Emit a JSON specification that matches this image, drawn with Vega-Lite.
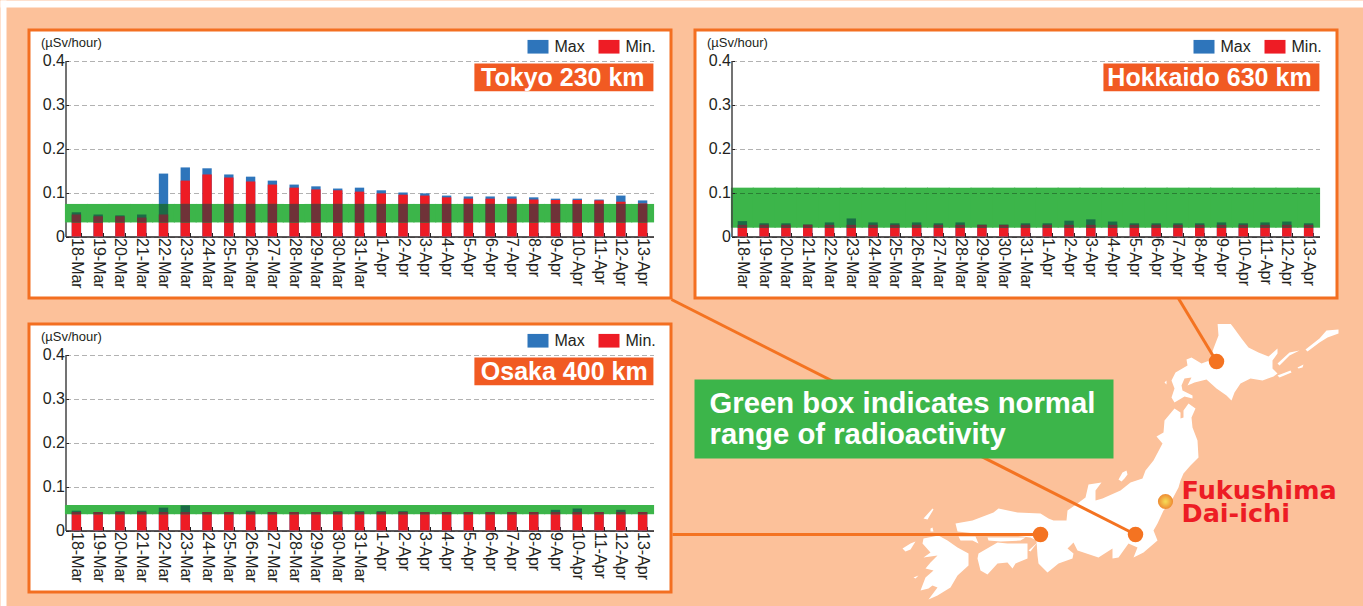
{"$schema":"https://vega.github.io/schema/vega-lite/v6.json","background":"#FCC19A","padding":0,"bounds":"flush","columns":2,"spacing":{"row":26,"column":24},
"resolve":{"scale":{"color":"independent"},"legend":{"color":"independent"}},
"config":{"font":"Liberation Sans","legend":{"labelFont":"Liberation Sans"}},
"datasets":{"readings":[
{"city":"Tokyo","day":"18-Mar","min":0.05,"max":0.055},{"city":"Tokyo","day":"19-Mar","min":0.046,"max":0.05},{"city":"Tokyo","day":"20-Mar","min":0.046,"max":0.048},{"city":"Tokyo","day":"21-Mar","min":0.043,"max":0.05},{"city":"Tokyo","day":"22-Mar","min":0.05,"max":0.143},{"city":"Tokyo","day":"23-Mar","min":0.127,"max":0.157},{"city":"Tokyo","day":"24-Mar","min":0.141,"max":0.155},{"city":"Tokyo","day":"25-Mar","min":0.134,"max":0.141},{"city":"Tokyo","day":"26-Mar","min":0.125,"max":0.136},{"city":"Tokyo","day":"27-Mar","min":0.118,"max":0.127},{"city":"Tokyo","day":"28-Mar","min":0.111,"max":0.118},{"city":"Tokyo","day":"29-Mar","min":0.107,"max":0.114},{"city":"Tokyo","day":"30-Mar","min":0.105,"max":0.109},{"city":"Tokyo","day":"31-Mar","min":0.102,"max":0.111},{"city":"Tokyo","day":"1-Apr","min":0.098,"max":0.105},{"city":"Tokyo","day":"2-Apr","min":0.095,"max":0.1},{"city":"Tokyo","day":"3-Apr","min":0.093,"max":0.098},{"city":"Tokyo","day":"4-Apr","min":0.089,"max":0.093},{"city":"Tokyo","day":"5-Apr","min":0.086,"max":0.091},{"city":"Tokyo","day":"6-Apr","min":0.086,"max":0.091},{"city":"Tokyo","day":"7-Apr","min":0.086,"max":0.091},{"city":"Tokyo","day":"8-Apr","min":0.084,"max":0.089},{"city":"Tokyo","day":"9-Apr","min":0.083,"max":0.086},{"city":"Tokyo","day":"10-Apr","min":0.083,"max":0.086},{"city":"Tokyo","day":"11-Apr","min":0.082,"max":0.084},{"city":"Tokyo","day":"12-Apr","min":0.079,"max":0.093},{"city":"Tokyo","day":"13-Apr","min":0.075,"max":0.082},
{"city":"Hokkaido","day":"18-Mar","min":0.0265,"max":0.035},{"city":"Hokkaido","day":"19-Mar","min":0.0265,"max":0.03},{"city":"Hokkaido","day":"20-Mar","min":0.0265,"max":0.03},{"city":"Hokkaido","day":"21-Mar","min":0.0265,"max":0.027},{"city":"Hokkaido","day":"22-Mar","min":0.0265,"max":0.032},{"city":"Hokkaido","day":"23-Mar","min":0.0265,"max":0.041},{"city":"Hokkaido","day":"24-Mar","min":0.0265,"max":0.032},{"city":"Hokkaido","day":"25-Mar","min":0.0265,"max":0.03},{"city":"Hokkaido","day":"26-Mar","min":0.0265,"max":0.032},{"city":"Hokkaido","day":"27-Mar","min":0.0265,"max":0.03},{"city":"Hokkaido","day":"28-Mar","min":0.0265,"max":0.032},{"city":"Hokkaido","day":"29-Mar","min":0.0265,"max":0.027},{"city":"Hokkaido","day":"30-Mar","min":0.0265,"max":0.027},{"city":"Hokkaido","day":"31-Mar","min":0.0265,"max":0.03},{"city":"Hokkaido","day":"1-Apr","min":0.0265,"max":0.03},{"city":"Hokkaido","day":"2-Apr","min":0.0265,"max":0.036},{"city":"Hokkaido","day":"3-Apr","min":0.0265,"max":0.039},{"city":"Hokkaido","day":"4-Apr","min":0.0265,"max":0.034},{"city":"Hokkaido","day":"5-Apr","min":0.0265,"max":0.03},{"city":"Hokkaido","day":"6-Apr","min":0.0265,"max":0.03},{"city":"Hokkaido","day":"7-Apr","min":0.0265,"max":0.03},{"city":"Hokkaido","day":"8-Apr","min":0.0265,"max":0.03},{"city":"Hokkaido","day":"9-Apr","min":0.0265,"max":0.032},{"city":"Hokkaido","day":"10-Apr","min":0.0265,"max":0.03},{"city":"Hokkaido","day":"11-Apr","min":0.0265,"max":0.032},{"city":"Hokkaido","day":"12-Apr","min":0.0265,"max":0.034},{"city":"Hokkaido","day":"13-Apr","min":0.0265,"max":0.03},
{"city":"Osaka","day":"18-Mar","min":0.042,"max":0.045},{"city":"Osaka","day":"19-Mar","min":0.042,"max":0.042},{"city":"Osaka","day":"20-Mar","min":0.042,"max":0.044},{"city":"Osaka","day":"21-Mar","min":0.042,"max":0.045},{"city":"Osaka","day":"22-Mar","min":0.042,"max":0.052},{"city":"Osaka","day":"23-Mar","min":0.042,"max":0.057},{"city":"Osaka","day":"24-Mar","min":0.042,"max":0.042},{"city":"Osaka","day":"25-Mar","min":0.042,"max":0.042},{"city":"Osaka","day":"26-Mar","min":0.042,"max":0.045},{"city":"Osaka","day":"27-Mar","min":0.042,"max":0.042},{"city":"Osaka","day":"28-Mar","min":0.042,"max":0.042},{"city":"Osaka","day":"29-Mar","min":0.042,"max":0.042},{"city":"Osaka","day":"30-Mar","min":0.042,"max":0.044},{"city":"Osaka","day":"31-Mar","min":0.042,"max":0.044},{"city":"Osaka","day":"1-Apr","min":0.042,"max":0.044},{"city":"Osaka","day":"2-Apr","min":0.042,"max":0.044},{"city":"Osaka","day":"3-Apr","min":0.042,"max":0.042},{"city":"Osaka","day":"4-Apr","min":0.042,"max":0.042},{"city":"Osaka","day":"5-Apr","min":0.042,"max":0.042},{"city":"Osaka","day":"6-Apr","min":0.042,"max":0.042},{"city":"Osaka","day":"7-Apr","min":0.042,"max":0.042},{"city":"Osaka","day":"8-Apr","min":0.042,"max":0.042},{"city":"Osaka","day":"9-Apr","min":0.042,"max":0.047},{"city":"Osaka","day":"10-Apr","min":0.042,"max":0.05},{"city":"Osaka","day":"11-Apr","min":0.042,"max":0.042},{"city":"Osaka","day":"12-Apr","min":0.042,"max":0.047},{"city":"Osaka","day":"13-Apr","min":0.042,"max":0.042}
]},
"concat":[
{"width":642,"height":268,"view":{"stroke":"#F36F21","strokeWidth":3,"fill":"white"},"data":{"name":"readings"},"transform":[{"filter":"datum.city==='Tokyo'"}],
"encoding":{"x":{"field":"day","type":"ordinal","title":null,"scale":{"domain":["18-Mar","19-Mar","20-Mar","21-Mar","22-Mar","23-Mar","24-Mar","25-Mar","26-Mar","27-Mar","28-Mar","29-Mar","30-Mar","31-Mar","1-Apr","2-Apr","3-Apr","4-Apr","5-Apr","6-Apr","7-Apr","8-Apr","9-Apr","10-Apr","11-Apr","12-Apr","13-Apr"],"range":[36.5,624.5],"paddingInner":0.57,"paddingOuter":0.285},"axis":{"offset":-61.5,"minExtent":0,"maxExtent":0,"labelAngle":90,"labelFontSize":16,"labelColor":"#231F20","labelPadding":5,"tickBand":"extent","tickSize":-4,"tickColor":"#231F20","domainColor":"#231F20","domainWidth":1.5,"labelOverlap":false}}},
"resolve":{"scale":{"y":"independent"}},
"layer":[
{"layer":[
{"mark":{"type":"bar"},"encoding":{"y":{"field":"max","type":"quantitative","stack":false,"scale":{"domain":[0,0.4],"range":[206.5,30.5],"nice":false},"axis":{"offset":-36.5,"minExtent":0,"maxExtent":0,"values":[0,0.1,0.2,0.3,0.4],"format":"~g","labelFontSize":16,"labelColor":"#231F20","labelPadding":4,"tickSize":-3,"tickColor":"#231F20","domainColor":"#444444","domainWidth":1.5,"grid":true,"gridDash":[5,3],"gridWidth":1.2,"gridColor":"#000000","gridOpacity":0.3,"title":"(µSv/hour)","titleFontSize":13,"titleFontWeight":"normal","titleColor":"#231F20","titleAngle":0,"titleAlign":"left","titleBaseline":"middle","titleX":-25,"titleY":12.5}},"color":{"datum":"Max","type":"nominal","scale":{"domain":["Max","Min."],"range":["#2E75BB","#EE1C25"]},"legend":{"title":null,"orient":"none","legendX":498.5,"legendY":6,"direction":"horizontal","symbolType":"M-1,-0.65H1V0.65H-1Z","symbolSize":441,"symbolStrokeWidth":0,"symbolOpacity":1,"labelFontSize":16,"labelColor":"#231F20","columnPadding":13,"labelOffset":6}}}},
{"mark":{"type":"bar"},"encoding":{"y":{"field":"min","type":"quantitative","stack":false},"color":{"datum":"Min.","type":"nominal"}}},
{"mark":{"type":"bar","width":{"band":2.45},"color":"#3CB54A"},"encoding":{"y":{"datum":0.032,"type":"quantitative"},"y2":{"datum":0.074}}},
{"data":{"values":[{"city":"Tokyo","label":"Tokyo 230 km"}]},"mark":{"type":"rect","color":"#F15A22","xOffset":6,"x2Offset":10.8},"encoding":{"x":{"datum":"5-Apr","type":"ordinal"},"x2":{"datum":"13-Apr"},"y":{"datum":0.393,"type":"quantitative"},"y2":{"datum":0.33}}},
{"data":{"values":[{"city":"Tokyo","label":"Tokyo 230 km"}]},"mark":{"type":"text","color":"white","fontWeight":"bold","fontSize":25,"align":"right","baseline":"middle","dx":2},"encoding":{"x":{"datum":"13-Apr","type":"ordinal"},"y":{"datum":0.361,"type":"quantitative"},"text":{"field":"label"}}}
]},
{"layer":[
{"mark":{"type":"bar","color":"#1B6B46"},"encoding":{"y":{"field":"max","type":"quantitative","stack":false,"axis":null,"scale":{"domain":[0.032,0.074],"range":[192.42,173.94],"clamp":true,"nice":false,"zero":false}},"y2":{"datum":0.032}}},
{"mark":{"type":"bar","color":"#6F3238"},"encoding":{"y":{"field":"min","type":"quantitative","stack":false},"y2":{"datum":0.032}}}
]}
]},
{"width":642,"height":268,"view":{"stroke":"#F36F21","strokeWidth":3,"fill":"white"},"data":{"name":"readings"},"transform":[{"filter":"datum.city==='Hokkaido'"}],
"encoding":{"x":{"field":"day","type":"ordinal","title":null,"scale":{"domain":["18-Mar","19-Mar","20-Mar","21-Mar","22-Mar","23-Mar","24-Mar","25-Mar","26-Mar","27-Mar","28-Mar","29-Mar","30-Mar","31-Mar","1-Apr","2-Apr","3-Apr","4-Apr","5-Apr","6-Apr","7-Apr","8-Apr","9-Apr","10-Apr","11-Apr","12-Apr","13-Apr"],"range":[36.5,624.5],"paddingInner":0.57,"paddingOuter":0.285},"axis":{"offset":-61.5,"minExtent":0,"maxExtent":0,"labelAngle":90,"labelFontSize":16,"labelColor":"#231F20","labelPadding":5,"tickBand":"extent","tickSize":-4,"tickColor":"#231F20","domainColor":"#231F20","domainWidth":1.5,"labelOverlap":false}}},
"resolve":{"scale":{"y":"independent"}},
"layer":[
{"layer":[
{"mark":{"type":"bar"},"encoding":{"y":{"field":"max","type":"quantitative","stack":false,"scale":{"domain":[0,0.4],"range":[206.5,30.5],"nice":false},"axis":{"zindex":1,"offset":-36.5,"minExtent":0,"maxExtent":0,"values":[0,0.1,0.2,0.3,0.4],"format":"~g","labelFontSize":16,"labelColor":"#231F20","labelPadding":4,"tickSize":-3,"tickColor":"#231F20","domainColor":"#444444","domainWidth":1.5,"grid":true,"gridDash":[5,3],"gridWidth":1.2,"gridColor":"#000000","gridOpacity":0.3,"title":"(µSv/hour)","titleFontSize":13,"titleFontWeight":"normal","titleColor":"#231F20","titleAngle":0,"titleAlign":"left","titleBaseline":"middle","titleX":-25,"titleY":12.5}},"color":{"datum":"Max","type":"nominal","scale":{"domain":["Max","Min."],"range":["#2E75BB","#EE1C25"]},"legend":{"title":null,"orient":"none","legendX":498.5,"legendY":6,"direction":"horizontal","symbolType":"M-1,-0.65H1V0.65H-1Z","symbolSize":441,"symbolStrokeWidth":0,"symbolOpacity":1,"labelFontSize":16,"labelColor":"#231F20","columnPadding":13,"labelOffset":6}}}},
{"mark":{"type":"bar"},"encoding":{"y":{"field":"min","type":"quantitative","stack":false},"color":{"datum":"Min.","type":"nominal"}}},
{"mark":{"type":"bar","width":{"band":2.45},"color":"#3CB54A"},"encoding":{"y":{"datum":0.02,"type":"quantitative"},"y2":{"datum":0.111}}},
{"data":{"values":[{"city":"Hokkaido","label":"Hokkaido 630 km"}]},"mark":{"type":"rect","color":"#F15A22","xOffset":12.6,"x2Offset":10.8},"encoding":{"x":{"datum":"3-Apr","type":"ordinal"},"x2":{"datum":"13-Apr"},"y":{"datum":0.393,"type":"quantitative"},"y2":{"datum":0.33}}},
{"data":{"values":[{"city":"Hokkaido","label":"Hokkaido 630 km"}]},"mark":{"type":"text","color":"white","fontWeight":"bold","fontSize":25,"align":"right","baseline":"middle","dx":3},"encoding":{"x":{"datum":"13-Apr","type":"ordinal"},"y":{"datum":0.361,"type":"quantitative"},"text":{"field":"label"}}}
]},
{"layer":[
{"mark":{"type":"bar","color":"#1B6B46"},"encoding":{"y":{"field":"max","type":"quantitative","stack":false,"axis":null,"scale":{"domain":[0.02,0.111],"range":[197.7,157.66],"clamp":true,"nice":false,"zero":false}},"y2":{"datum":0.02}}},
{"mark":{"type":"bar","color":"#6F3238"},"encoding":{"y":{"field":"min","type":"quantitative","stack":false},"y2":{"datum":0.02}}}
]}
]},
{"width":642,"height":268,"view":{"stroke":"#F36F21","strokeWidth":3,"fill":"white"},"data":{"name":"readings"},"transform":[{"filter":"datum.city==='Osaka'"}],
"encoding":{"x":{"field":"day","type":"ordinal","title":null,"scale":{"domain":["18-Mar","19-Mar","20-Mar","21-Mar","22-Mar","23-Mar","24-Mar","25-Mar","26-Mar","27-Mar","28-Mar","29-Mar","30-Mar","31-Mar","1-Apr","2-Apr","3-Apr","4-Apr","5-Apr","6-Apr","7-Apr","8-Apr","9-Apr","10-Apr","11-Apr","12-Apr","13-Apr"],"range":[36.5,624.5],"paddingInner":0.57,"paddingOuter":0.285},"axis":{"offset":-61.5,"minExtent":0,"maxExtent":0,"labelAngle":90,"labelFontSize":16,"labelColor":"#231F20","labelPadding":5,"tickBand":"extent","tickSize":-4,"tickColor":"#231F20","domainColor":"#231F20","domainWidth":1.5,"labelOverlap":false}}},
"resolve":{"scale":{"y":"independent"}},
"layer":[
{"layer":[
{"mark":{"type":"bar"},"encoding":{"y":{"field":"max","type":"quantitative","stack":false,"scale":{"domain":[0,0.4],"range":[206.5,30.5],"nice":false},"axis":{"offset":-36.5,"minExtent":0,"maxExtent":0,"values":[0,0.1,0.2,0.3,0.4],"format":"~g","labelFontSize":16,"labelColor":"#231F20","labelPadding":4,"tickSize":-3,"tickColor":"#231F20","domainColor":"#444444","domainWidth":1.5,"grid":true,"gridDash":[5,3],"gridWidth":1.2,"gridColor":"#000000","gridOpacity":0.3,"title":"(µSv/hour)","titleFontSize":13,"titleFontWeight":"normal","titleColor":"#231F20","titleAngle":0,"titleAlign":"left","titleBaseline":"middle","titleX":-25,"titleY":12.5}},"color":{"datum":"Max","type":"nominal","scale":{"domain":["Max","Min."],"range":["#2E75BB","#EE1C25"]},"legend":{"title":null,"orient":"none","legendX":498.5,"legendY":6,"direction":"horizontal","symbolType":"M-1,-0.65H1V0.65H-1Z","symbolSize":441,"symbolStrokeWidth":0,"symbolOpacity":1,"labelFontSize":16,"labelColor":"#231F20","columnPadding":13,"labelOffset":6}}}},
{"mark":{"type":"bar"},"encoding":{"y":{"field":"min","type":"quantitative","stack":false},"color":{"datum":"Min.","type":"nominal"}}},
{"mark":{"type":"bar","width":{"band":2.45},"color":"#3CB54A"},"encoding":{"y":{"datum":0.037,"type":"quantitative"},"y2":{"datum":0.058}}},
{"data":{"values":[{"city":"Osaka","label":"Osaka 400 km"}]},"mark":{"type":"rect","color":"#F15A22","xOffset":6,"x2Offset":10.8},"encoding":{"x":{"datum":"5-Apr","type":"ordinal"},"x2":{"datum":"13-Apr"},"y":{"datum":0.393,"type":"quantitative"},"y2":{"datum":0.33}}},
{"data":{"values":[{"city":"Osaka","label":"Osaka 400 km"}]},"mark":{"type":"text","color":"white","fontWeight":"bold","fontSize":25,"align":"right","baseline":"middle","dx":5},"encoding":{"x":{"datum":"13-Apr","type":"ordinal"},"y":{"datum":0.361,"type":"quantitative"},"text":{"field":"label"}}}
]},
{"layer":[
{"mark":{"type":"bar","color":"#1B6B46"},"encoding":{"y":{"field":"max","type":"quantitative","stack":false,"axis":null,"scale":{"domain":[0.037,0.058],"range":[190.22,180.98],"clamp":true,"nice":false,"zero":false}},"y2":{"datum":0.037}}},
{"mark":{"type":"bar","color":"#6F3238"},"encoding":{"y":{"field":"min","type":"quantitative","stack":false},"y2":{"datum":0.037}}}
]}
]},
{"width":668,"height":282,"view":{"stroke":null},
"layer":[
{"data":{"values":[{"part":"margin top","x0":0,"x1":1363,"y0":0,"y1":7},{"part":"margin left","x0":0,"x1":6,"y0":0,"y1":606}]},"mark":{"type":"rect","color":"white"},"encoding":{"x":{"field":"x0","type":"quantitative","axis":null,"scale":{"domain":[694.5,1362.5],"range":[0,668],"nice":false,"zero":false}},"x2":{"field":"x1"},"y":{"field":"y0","type":"quantitative","axis":null,"scale":{"domain":[323.5,605.5],"range":[0,282],"nice":false,"zero":false}},"y2":{"field":"y1"}}},
{"projection":{"type":"identity","scale":1,"translate":[-694.5,-323.5]},"data":{"values":[
{"type":"Feature","properties":{"name":"Hokkaido"},"geometry":{"type":"MultiPolygon","coordinates":[
[[[1223,312],[1226,318],[1233,327],[1241,338],[1248,347],[1258,352],[1268,356],[1277,348],[1277,353],[1272,360],[1272,368],[1277,373],[1273,376],[1262,380],[1250,378],[1240,383],[1234,392],[1231,400],[1226,395],[1216,388],[1206,379],[1194,382],[1187,385],[1191,377],[1184,378],[1181,385],[1182,390],[1192,395],[1192,398],[1184,396],[1174,402],[1171,397],[1174,388],[1171,380],[1175,372],[1187,365],[1186,359],[1191,357],[1201,363],[1209,360],[1213,348],[1218,335],[1217,322],[1218,313],[1223,312]]],
[[[1277,363],[1289,352],[1299,350],[1289,355],[1279,365],[1277,363]]],
[[[1305,349],[1319,338],[1326,330],[1338,329],[1338,333],[1327,337],[1319,342],[1307,351],[1305,349]]],
[[[1297,367],[1303,364],[1302,367],[1298,368],[1297,367]]],
[[[1277,375],[1290,370],[1291,372],[1279,377],[1277,375]]],
[[[1209,315],[1212,317],[1211,319],[1209,317],[1209,315]]],
[[[1164,382],[1166,380],[1166,384],[1164,382]]]]}},
{"type":"Feature","properties":{"name":"Honshu"},"geometry":{"type":"MultiPolygon","coordinates":[
[[[1174,408],[1180,412],[1180,418],[1183,417],[1183,410],[1188,403],[1195,408],[1191,417],[1192,427],[1197,440],[1198,457],[1190,465],[1183,473],[1180,480],[1178,487],[1170,502],[1163,510],[1157,523],[1153,530],[1157,540],[1143,552],[1133,557],[1137,547],[1128,543],[1118,557],[1112,558],[1112,548],[1098,557],[1083,552],[1077,550],[1073,542],[1067,548],[1073,553],[1072,558],[1058,563],[1047,572],[1038,563],[1037,555],[1036,540],[1030,537],[1005,534],[975,533],[957,531],[955,523],[972,520],[993,512],[998,508],[1017,512],[1040,513],[1048,518],[1053,520],[1066,520],[1067,510],[1077,503],[1085,497],[1088,484],[1101,482],[1095,490],[1095,500],[1102,498],[1120,490],[1130,482],[1142,478],[1145,470],[1153,460],[1162,443],[1156,436],[1163,432],[1164,420],[1174,408]]],
[[[1118,479],[1122,472],[1126,470],[1127,474],[1124,478],[1121,481],[1118,479]]],
[[[958,536],[975,536],[978,543],[972,540],[960,540],[958,536]]],
[[[987,537],[1025,537],[1020,540],[1000,541],[988,540],[987,537]]]]}},
{"type":"Feature","properties":{"name":"Shikoku"},"geometry":{"type":"MultiPolygon","coordinates":[
[[[978,553],[997,542],[1007,543],[1027,543],[1027,558],[1015,563],[1012,568],[1007,562],[997,563],[987,574],[980,570],[977,558],[978,553]]],
[[[1028,550],[1037,542],[1033,547],[1030,551],[1028,550]]]]}},
{"type":"Feature","properties":{"name":"Kyushu"},"geometry":{"type":"MultiPolygon","coordinates":[
[[[923,538],[938,535],[947,540],[957,547],[968,553],[968,565],[957,575],[950,587],[937,595],[928,599],[937,587],[932,585],[928,588],[920,590],[925,577],[933,570],[925,568],[930,562],[937,555],[923,557],[930,552],[922,543],[923,538]]],
[[[902,548],[910,543],[915,541],[910,549],[905,551],[902,548]]],
[[[923,518],[932,508],[933,509],[927,519],[923,518]]],
[[[913,577],[918,575],[915,578],[913,577]]],
[[[930,528],[932,527],[933,531],[930,531],[930,528]]]]}}
]},"mark":{"type":"geoshape","fill":"white","stroke":null}},
{"data":{"values":[{"city":"Hokkaido","x0":1178,"y0":298,"x1":1216,"y1":361},{"city":"Osaka","x0":672,"y0":534,"x1":1040,"y1":534},{"city":"Tokyo","x0":671,"y0":299,"x1":1135,"y1":534}]},"mark":{"type":"rule","color":"#F47321","strokeWidth":3},"encoding":{"x":{"field":"x0","type":"quantitative"},"x2":{"field":"x1"},"y":{"field":"y0","type":"quantitative"},"y2":{"field":"y1"}}},
{"data":{"values":[{"part":"note","x0":694,"x1":1113,"y0":379,"y1":458}]},"mark":{"type":"rect","color":"#3CB54A"},"encoding":{"x":{"field":"x0","type":"quantitative"},"x2":{"field":"x1"},"y":{"field":"y0","type":"quantitative"},"y2":{"field":"y1"}}},
{"data":{"values":[{"city":"Hokkaido","lon":1216,"lat":361},{"city":"Osaka","lon":1040,"lat":534},{"city":"Tokyo","lon":1135,"lat":534}]},"mark":{"type":"circle","size":240,"color":"#F47321","opacity":1},"encoding":{"x":{"field":"lon","type":"quantitative"},"y":{"field":"lat","type":"quantitative"}}},
{"data":{"values":[{"city":"Fukushima Dai-ichi","lon":1165,"lat":501}]},"mark":{"type":"circle","size":230,"opacity":1,"fill":{"gradient":"radial","stops":[{"offset":0,"color":"#F6E05A"},{"offset":1,"color":"#EE8A32"}]}},"encoding":{"x":{"field":"lon","type":"quantitative"},"y":{"field":"lat","type":"quantitative"}}},
{"data":{"values":[{"label":"Green box indicates normal","lon":709,"lat":412},{"label":"range of radioactivity","lon":709,"lat":443}]},"mark":{"type":"text","color":"white","fontWeight":"bold","fontSize":29.3,"align":"left","baseline":"alphabetic"},"encoding":{"x":{"field":"lon","type":"quantitative"},"y":{"field":"lat","type":"quantitative"},"text":{"field":"label"}}},
{"data":{"values":[{"label":["Fukushima","Dai-ichi"],"lon":1181,"lat":498}]},"mark":{"type":"text","color":"#ED1C24","font":"DejaVu Sans","fontWeight":"bold","fontSize":25.5,"lineHeight":23.5,"align":"left","baseline":"alphabetic"},"encoding":{"x":{"field":"lon","type":"quantitative"},"y":{"field":"lat","type":"quantitative"},"text":{"field":"label"}}}
]}
]}
